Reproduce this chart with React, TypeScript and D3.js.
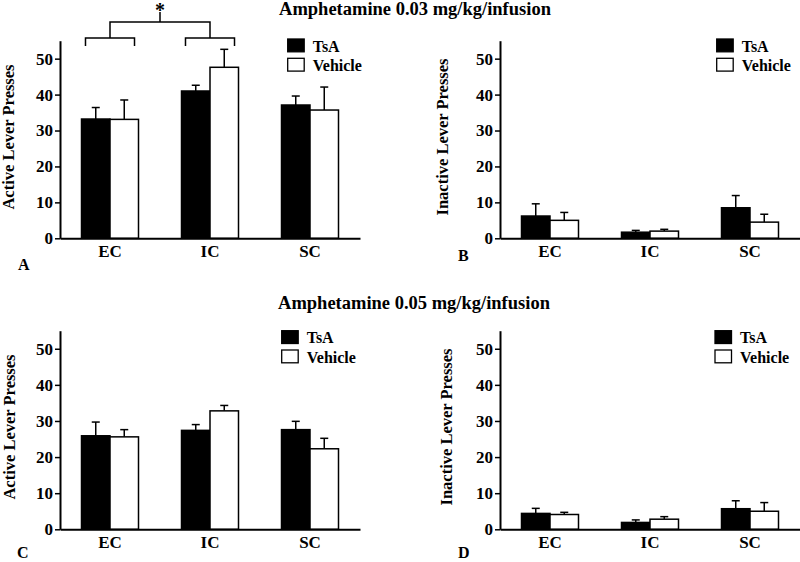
import * as d3 from "d3";
import React, { useRef, useEffect } from "react";

const groups = ["EC", "IC", "SC"];
const seriesNames = ["TsA", "Vehicle"];
const yTicks = [0, 10, 20, 30, 40, 50];

// panel A: active lever, 0.03 mg/kg
const activeLowTsA = [33.2, 41.0, 37.1];
const activeLowTsAErr = [3.2, 1.6, 2.5];
const activeLowVeh = [33.1, 47.6, 35.7];
const activeLowVehErr = [5.4, 5.0, 6.4];

// panel B: inactive lever, 0.03 mg/kg
const inactiveLowTsA = [6.2, 1.7, 8.5];
const inactiveLowTsAErr = [3.4, 0.5, 3.4];
const inactiveLowVeh = [5.0, 2.0, 4.5];
const inactiveLowVehErr = [2.2, 0.5, 2.2];

// panel C: active lever, 0.05 mg/kg
const activeHighTsA = [25.9, 27.4, 27.6];
const activeHighTsAErr = [3.8, 1.6, 2.3];
const activeHighVeh = [25.6, 32.8, 22.3];
const activeHighVehErr = [2.0, 1.5, 2.9];

// panel D: inactive lever, 0.05 mg/kg
const inactiveHighTsA = [4.4, 1.9, 5.7];
const inactiveHighTsAErr = [1.4, 0.7, 2.2];
const inactiveHighVeh = [4.1, 2.8, 5.0];
const inactiveHighVehErr = [0.6, 0.7, 2.4];

const titles = ["Amphetamine 0.03 mg/kg/infusion", "Amphetamine 0.05 mg/kg/infusion"];

const FONT = "'Liberation Serif', 'Times New Roman', serif";

const panels = [
  { letter: "A", label: "Active Lever Presses", tsa: activeLowTsA, tsaErr: activeLowTsAErr, veh: activeLowVeh, vehErr: activeLowVehErr,
    x0: 60, top: 40.7, bottom: 238.3, ylabX: 14, ylabY: 137, legX: 287.7, legY: 39, letX: 18, letY: 270 },
  { letter: "B", label: "Inactive Lever Presses", tsa: inactiveLowTsA, tsaErr: inactiveLowTsAErr, veh: inactiveLowVeh, vehErr: inactiveLowVehErr,
    x0: 500, top: 40.7, bottom: 238.3, ylabX: 448, ylabY: 137, legX: 716.7, legY: 39, letX: 458, letY: 261 },
  { letter: "C", label: "Active Lever Presses", tsa: activeHighTsA, tsaErr: activeHighTsAErr, veh: activeHighVeh, vehErr: activeHighVehErr,
    x0: 60, top: 330.7, bottom: 529.3, ylabX: 15, ylabY: 427, legX: 281.7, legY: 330.7, letX: 17, letY: 558 },
  { letter: "D", label: "Inactive Lever Presses", tsa: inactiveHighTsA, tsaErr: inactiveHighTsAErr, veh: inactiveHighVeh, vehErr: inactiveHighVehErr,
    x0: 500, top: 330.7, bottom: 529.3, ylabX: 452, ylabY: 427, legX: 715, legY: 330.7, letX: 458, letY: 558 },
];

export default function App() {
  const svgRef = useRef(null);

  useEffect(() => {
    const svg = d3.select(svgRef.current);
    svg.selectAll("*").remove();
    svg.style("font-family", FONT).style("font-weight", "bold");

    // titles
    svg.append("text").attr("x", 415).attr("y", 15).attr("text-anchor", "middle")
      .attr("font-size", 18.5).text(titles[0]);
    svg.append("text").attr("x", 414).attr("y", 308.5).attr("text-anchor", "middle")
      .attr("font-size", 18.5).text(titles[1]);

    panels.forEach((p, pi) => {
      const g = svg.append("g");
      const xScale = d3.scaleBand().domain(groups).range([p.x0, p.x0 + 300])
        .paddingInner(0.43).paddingOuter(0.215);
      const sub = d3.scaleBand().domain(seriesNames).range([0, xScale.bandwidth()]);
      const yScale = d3.scaleLinear().domain([0, 55]).range([p.bottom, p.top]);

      const rows = [];
      groups.forEach((grp, i) => {
        rows.push({ grp, s: "TsA", v: p.tsa[i], e: p.tsaErr[i] });
        rows.push({ grp, s: "Vehicle", v: p.veh[i], e: p.vehErr[i] });
      });

      // error bars (drawn first, bars cover the lower part)
      rows.forEach((d) => {
        const cx = xScale(d.grp) + sub(d.s) + sub.bandwidth() / 2;
        g.append("line").attr("x1", cx).attr("x2", cx)
          .attr("y1", yScale(d.v)).attr("y2", yScale(d.v + d.e))
          .attr("stroke", "#000").attr("stroke-width", 1.5);
        g.append("line").attr("x1", cx - 4).attr("x2", cx + 4)
          .attr("y1", yScale(d.v + d.e)).attr("y2", yScale(d.v + d.e))
          .attr("stroke", "#000").attr("stroke-width", 1.5);
      });

      g.selectAll("rect.bar").data(rows).enter().append("rect")
        .attr("class", "bar")
        .attr("x", (d) => xScale(d.grp) + sub(d.s))
        .attr("y", (d) => yScale(d.v))
        .attr("width", sub.bandwidth())
        .attr("height", (d) => yScale(0) - yScale(d.v))
        .attr("fill", (d) => (d.s === "TsA" ? "#000" : "#fff"))
        .attr("stroke", "#000").attr("stroke-width", 1.5);

      // y axis
      const yAxis = g.append("g").attr("transform", `translate(${p.x0},0)`)
        .call(d3.axisLeft(yScale).tickValues(yTicks).tickSize(5).tickSizeOuter(0).tickPadding(2));
      yAxis.select(".domain").attr("stroke-width", 2);
      yAxis.selectAll(".tick line").attr("stroke-width", 1.5);
      yAxis.selectAll("text").attr("font-size", 17).attr("font-family", FONT).attr("fill", "#000");

      // x axis
      const xAxis = g.append("g").attr("transform", `translate(0,${p.bottom})`)
        .call(d3.axisBottom(xScale).tickSize(0).tickSizeOuter(0).tickPadding(7));
      xAxis.select(".domain").attr("stroke-width", 2);
      xAxis.selectAll("text").attr("font-size", 17).attr("font-family", FONT).attr("fill", "#000");

      // y label
      g.append("text").attr("transform", `translate(${p.ylabX},${p.ylabY}) rotate(-90)`)
        .attr("text-anchor", "middle").attr("font-size", 16.5).text(p.label);

      // legend
      seriesNames.forEach((s, i) => {
        const ly = p.legY + i * 19.3;
        g.append("rect").attr("x", p.legX).attr("y", ly).attr("width", 16.5).attr("height", 12.8)
          .attr("fill", s === "TsA" ? "#000" : "#fff").attr("stroke", "#000").attr("stroke-width", 1.3);
        g.append("text").attr("x", p.legX + 25).attr("y", ly + 12.5).attr("font-size", 16).text(s);
      });

      // panel letter
      g.append("text").attr("x", p.letX).attr("y", p.letY).attr("font-size", 16).text(p.letter);

      // significance bracket (panel A: EC vs IC)
      if (pi === 0) {
        const half = xScale.bandwidth() * 0.43;
        const cEC = xScale("EC") + xScale.bandwidth() / 2;
        const cIC = xScale("IC") + xScale.bandwidth() / 2;
        const yLow = 38, yLowTip = 46, yHigh = 22, yTop = 12;
        const path = d3.path();
        [cEC, cIC].forEach((c) => {
          path.moveTo(c - half, yLowTip);
          path.lineTo(c - half, yLow);
          path.lineTo(c + half, yLow);
          path.lineTo(c + half, yLowTip);
        });
        path.moveTo(cEC, yLow);
        path.lineTo(cEC, yHigh);
        path.lineTo(cIC, yHigh);
        path.lineTo(cIC, yLow);
        const mid = (cEC + cIC) / 2;
        path.moveTo(mid, yHigh);
        path.lineTo(mid, yTop);
        g.append("path").attr("d", path.toString()).attr("fill", "none")
          .attr("stroke", "#000").attr("stroke-width", 1.5);
        g.append("text").attr("x", mid).attr("y", 17).attr("text-anchor", "middle")
          .attr("font-size", 20).text("*");
      }
    });
  }, []);

  return (
    <svg ref={svgRef} width={800} height={562}
      style={{ position: "absolute", left: 0, top: 0, background: "#fff" }}></svg>
  );
}
